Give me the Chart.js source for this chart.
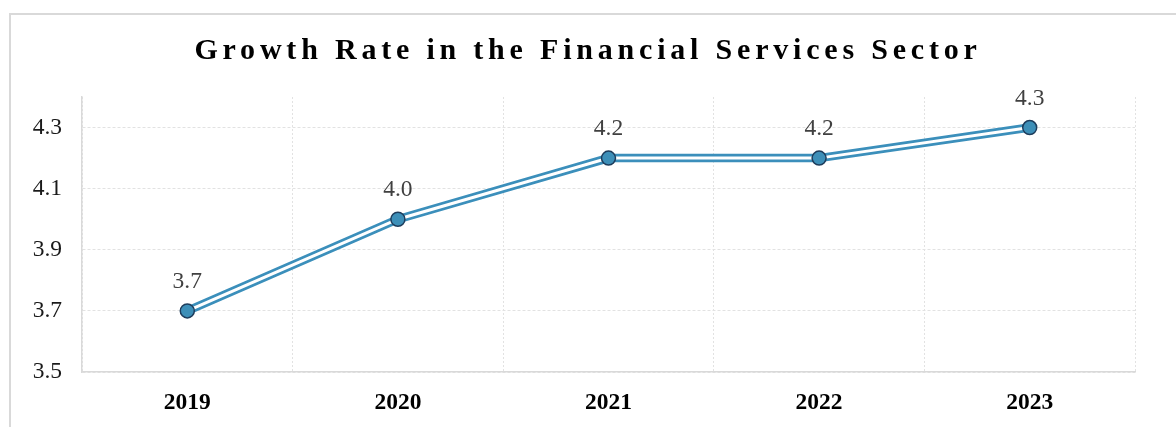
<!DOCTYPE html>
<html lang="en">
<head>
  <meta charset="UTF-8" />
  <title>Growth Rate in the Financial Services Sector</title>
  <script src="https://cdn.jsdelivr.net/npm/chart.js"></script>
  <style>
    body {
      margin: 0;
      padding: 0;
      background: #fff;
    }
    .frame {
      position: absolute;
      left: 9px;
      top: 13px;
      width: 1300px;
      height: 500px;
      border-left: 2px solid #d9d9d9;
      border-top: 2px solid #d9d9d9;
    }
    .wrap {
      position: relative;
      width: 1176px;
      height: 427px;
    }
  </style>
</head>
<body>
  <div class="frame"></div>
  <div class="wrap">
    <canvas id="growthChart"></canvas>
  </div>

  <script>
    const titleText = 'Growth Rate in the Financial Services Sector';
    const years = ['2019', '2020', '2021', '2022', '2023'];
    const growthRate = [3.7, 4.0, 4.2, 4.2, 4.3];
    const yTicks = [3.5, 3.7, 3.9, 4.1, 4.3];

    const serif = "'Liberation Serif', 'Times New Roman', serif";

    // title with letter spacing, drawn by hand since the title plugin can't space letters
    const spacedTitle = {
      id: 'spacedTitle',
      afterDraw(chart) {
        const ctx = chart.ctx;
        ctx.save();
        ctx.font = 'bold 30px ' + serif;
        ctx.letterSpacing = '4.8px';
        ctx.fillStyle = '#000';
        ctx.textAlign = 'center';
        ctx.textBaseline = 'middle';
        ctx.fillText(titleText, 588, 51);
        ctx.restore();
      }
    };

    // value labels above each point
    const valueLabels = {
      id: 'valueLabels',
      afterDatasetsDraw(chart) {
        const ctx = chart.ctx;
        const meta = chart.getDatasetMeta(0);
        ctx.save();
        ctx.font = '23.5px ' + serif;
        ctx.fillStyle = '#404040';
        ctx.textAlign = 'center';
        ctx.textBaseline = 'middle';
        meta.data.forEach((pt, i) => {
          ctx.fillText(growthRate[i].toFixed(1), pt.x, pt.y - 29);
        });
        ctx.restore();
      }
    };

    const ctx = document.getElementById('growthChart').getContext('2d');
    new Chart(ctx, {
      type: 'line',
      data: {
        labels: years,
        datasets: [
          {
            // white core of the double line + the markers
            data: growthRate,
            borderColor: '#ffffff',
            borderWidth: 3,
            pointRadius: 7,
            pointBackgroundColor: '#3d8fb8',
            pointBorderColor: '#1e3d5c',
            pointBorderWidth: 1.5,
            tension: 0
          },
          {
            // blue outer stroke
            data: growthRate,
            borderColor: '#3b8fbb',
            borderWidth: 8.5,
            pointRadius: 0,
            tension: 0
          }
        ]
      },
      options: {
        responsive: true,
        maintainAspectRatio: false,
        animation: false,
        events: [],
        layout: {
          padding: { top: 97, right: 41, left: 0, bottom: 0 }
        },
        plugins: {
          legend: { display: false },
          title: { display: false },
          tooltip: { enabled: false }
        },
        scales: {
          x: {
            offset: true,
            grid: {
              offset: true,
              color: '#e2e2e2',
              drawTicks: false
            },
            border: { color: '#d9d9d9', width: 1.5, dash: [2, 2] },
            ticks: {
              color: '#000',
              padding: 17,
              font: { family: serif, size: 23.5, weight: 'bold' }
            },
            afterFit(scale) { scale.height = 55; }
          },
          y: {
            min: 3.5,
            max: 4.4,
            afterBuildTicks(scale) {
              scale.ticks = yTicks.map(v => ({ value: v }));
            },
            grid: {
              color: '#e2e2e2',
              drawTicks: false
            },
            border: { color: '#d9d9d9', width: 1.5, dash: [3, 2] },
            ticks: {
              color: '#1a1a1a',
              padding: 20,
              font: { family: serif, size: 23.5 },
              callback: v => v.toFixed(1)
            },
            afterFit(scale) { scale.width = 82; }
          }
        }
      },
      plugins: [spacedTitle, valueLabels]
    });
  </script>
</body>
</html>
